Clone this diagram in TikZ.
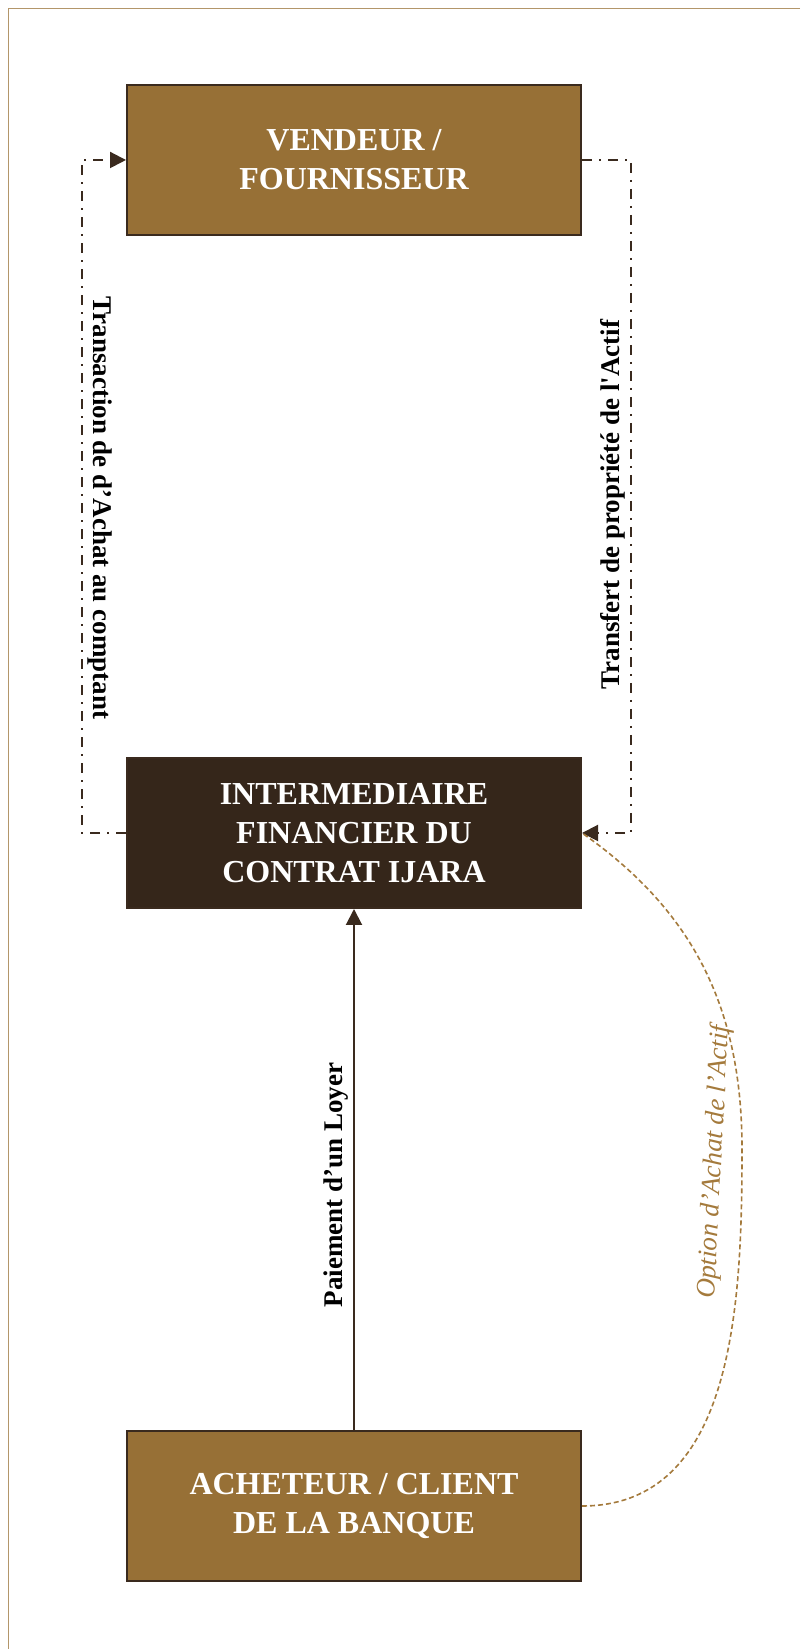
\documentclass[tikz,border=0pt]{standalone}
\usepackage{fontspec}
\setmainfont{Liberation Serif}
\usepackage{tikz}
\usetikzlibrary{arrows.meta, positioning}
\definecolor{brunClair}{HTML}{977036}
\definecolor{brunFonce}{HTML}{35261A}
\definecolor{brunTrait}{HTML}{3A2A1E}
\definecolor{brunOption}{HTML}{A47A3C}
\definecolor{brunCadre}{HTML}{B3966A}
\tikzset{
  boxL/.style={rectangle, draw=brunTrait, fill=brunClair, line width=1pt,
               minimum width=227pt, minimum height=75pt, align=center,
               text=white, font=\fontsize{16pt}{19.5pt}\selectfont\bfseries},
  boxD/.style={boxL, fill=brunFonce},
  lblV/.style={inner sep=2.5pt, text=black,
               font=\fontsize{13.5pt}{16pt}\selectfont\bfseries},
  lblO/.style={inner sep=2pt, text=brunOption,
               font=\fontsize{13.5pt}{16pt}\selectfont\itshape},
  edgeDD/.style={draw=brunTrait, line width=1pt,
                 dash pattern=on 5pt off 3.5pt on 1pt off 3.5pt,
                 -{Triangle[length=8pt, width=8pt]}},
  edgeS/.style={draw=brunTrait, line width=1pt,
                -{Triangle[length=8pt, width=8pt]}},
  edgeO/.style={draw=brunOption, line width=0.8pt,
                dash pattern=on 2.5pt off 1.5pt},
}
\begin{document}
\begin{tikzpicture}[x=0.5pt, y=0.5pt, node distance=260.5pt]
    \useasboundingbox (0,0) rectangle (800,1649);
    %% Frame
    \draw[draw=brunCadre, line width=0.75pt] (800,1640.6) -- (8.4,1640.6) -- (8.4,0);
    %% Boxes
    \node[boxL] (ach) at (354,143) {ACHETEUR / CLIENT\\DE LA BANQUE};
    \node[boxD, above=of ach] (inter) {INTERMEDIAIRE\\FINANCIER DU\\CONTRAT IJARA};
    \node[boxL, above=of inter] (vend) {VENDEUR /\\FOURNISSEUR};
    %% Cash purchase (left)
    \draw[edgeDD] (inter.west) -- ++(-44,0) |-
      node[pos=0.2415, lblV, rotate=-90, anchor=south] {Transaction de d’Achat au comptant}
      (vend.west);
    %% Ownership transfer (right)
    \draw[edgeDD] (vend.east) -- ++(49,0) |-
      node[pos=0.256, lblV, rotate=90, anchor=south] {Transfert de propriété de l\textquotesingle Actif}
      (inter.east);
    %% Rent
    \draw[edgeS] (ach.north) --
      node[pos=0.47, lblV, rotate=90, anchor=south] {Paiement d’un Loyer}
      (inter.south);
    %% Purchase option
    \coordinate (optMax) at (742,500);
    \draw[edgeO] (ach.east) to[out=0, in=-90]
      node[pos=0.97, lblO, xshift=-5pt, rotate=87, anchor=south] {Option d’Achat de l’Actif}
      (optMax) to[out=90, in=-35] (inter.east);
\end{tikzpicture}
\end{document}
